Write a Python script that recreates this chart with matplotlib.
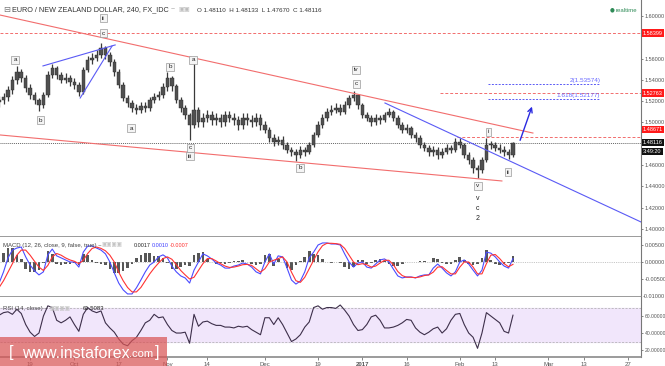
import numpy as np
import matplotlib
matplotlib.use("Agg")
import matplotlib.pyplot as plt
from matplotlib.patches import Rectangle

W, H = 665, 366
plt.rcParams['font.family'] = ['Liberation Sans', 'DejaVu Sans']

# x axis: trading days counted from 2016-09-19
origin = '2016-09-19'
first_day = '2016-09-08'
first_open = 1.5190

# daily closes / highs / lows (EURNZD)
close = [1.5211, 1.5239, 1.5305, 1.5399, 1.5474, 1.5418, 1.5324, 1.5258, 1.5211, 1.5164,
         1.5258, 1.5446, 1.5512, 1.5446, 1.5399, 1.5418, 1.5380, 1.5352, 1.5286, 1.5493,
         1.5587, 1.5606, 1.5634, 1.5700, 1.5634, 1.5568, 1.5474, 1.5352, 1.5230, 1.5183,
         1.5136, 1.5117, 1.5155, 1.5136, 1.5211, 1.5239, 1.5258, 1.5330, 1.5418, 1.5340,
         1.5211, 1.5136, 1.5070, 1.4977, 1.5117, 1.5005, 1.5042, 1.5070, 1.5023, 1.5042,
         1.5005, 1.5070, 1.5042, 1.5023, 1.4977, 1.5042, 1.5023, 1.5005, 1.5042, 1.4977,
         1.4930, 1.4854, 1.4817, 1.4836, 1.4789, 1.4742, 1.4723, 1.4695, 1.4742, 1.4723,
         1.4789, 1.4883, 1.4977, 1.5042, 1.5099, 1.5117, 1.5136, 1.5099, 1.5164, 1.5230,
         1.5258, 1.5164, 1.5070, 1.5042, 1.5005, 1.5042, 1.5023, 1.5070, 1.5099, 1.5042,
         1.4977, 1.4930, 1.4948, 1.4883, 1.4854, 1.4789, 1.4761, 1.4723, 1.4742, 1.4695,
         1.4723, 1.4761, 1.4742, 1.4817, 1.4789, 1.4695, 1.4648, 1.4573, 1.4554, 1.4648,
         1.4789, 1.4789, 1.4761, 1.4742, 1.4723, 1.4695, 1.4812]
high = [1.5250, 1.5280, 1.5340, 1.5440, 1.5530, 1.5500, 1.5450, 1.5360, 1.5290, 1.5230,
        1.5290, 1.5480, 1.5550, 1.5530, 1.5470, 1.5460, 1.5450, 1.5420, 1.5380, 1.5520,
        1.5620, 1.5650, 1.5680, 1.5746, 1.5720, 1.5660, 1.5600, 1.5500, 1.5380, 1.5260,
        1.5210, 1.5170, 1.5190, 1.5190, 1.5240, 1.5280, 1.5300, 1.5370, 1.5474, 1.5440,
        1.5360, 1.5240, 1.5160, 1.5090, 1.5587, 1.5150, 1.5090, 1.5120, 1.5110, 1.5090,
        1.5080, 1.5110, 1.5110, 1.5090, 1.5060, 1.5090, 1.5090, 1.5070, 1.5090, 1.5080,
        1.5010, 1.4960, 1.4890, 1.4870, 1.4870, 1.4820, 1.4770, 1.4750, 1.4780, 1.4770,
        1.4820, 1.4910, 1.5010, 1.5080, 1.5140, 1.5160, 1.5180, 1.5170, 1.5200, 1.5260,
        1.5295, 1.5270, 1.5180, 1.5100, 1.5070, 1.5080, 1.5070, 1.5100, 1.5140, 1.5120,
        1.5070, 1.5000, 1.4990, 1.4970, 1.4910, 1.4880, 1.4820, 1.4790, 1.4780, 1.4770,
        1.4760, 1.4800, 1.4790, 1.4850, 1.4850, 1.4810, 1.4720, 1.4680, 1.4600, 1.4680,
        1.4850, 1.4830, 1.4820, 1.4800, 1.4780, 1.4750, 1.4813]
low = [1.5150, 1.5170, 1.5200, 1.5270, 1.5360, 1.5380, 1.5290, 1.5220, 1.5170, 1.5110,
       1.5140, 1.5240, 1.5420, 1.5410, 1.5370, 1.5370, 1.5340, 1.5310, 1.5250, 1.5270,
       1.5470, 1.5550, 1.5580, 1.5610, 1.5600, 1.5530, 1.5440, 1.5320, 1.5200, 1.5150,
       1.5100, 1.5080, 1.5090, 1.5100, 1.5110, 1.5180, 1.5210, 1.5230, 1.5300, 1.5300,
       1.5180, 1.5100, 1.5030, 1.4836, 1.4950, 1.4960, 1.4960, 1.5000, 1.4980, 1.4980,
       1.4960, 1.4970, 1.5000, 1.4980, 1.4930, 1.4940, 1.4980, 1.4960, 1.4970, 1.4930,
       1.4900, 1.4820, 1.4780, 1.4790, 1.4750, 1.4710, 1.4690, 1.4640, 1.4670, 1.4690,
       1.4700, 1.4770, 1.4860, 1.4950, 1.5010, 1.5070, 1.5090, 1.5070, 1.5080, 1.5140,
       1.5200, 1.5130, 1.5040, 1.5010, 1.4970, 1.4980, 1.4990, 1.5000, 1.5050, 1.5010,
       1.4950, 1.4900, 1.4900, 1.4850, 1.4820, 1.4760, 1.4730, 1.4690, 1.4690, 1.4660,
       1.4670, 1.4700, 1.4710, 1.4720, 1.4760, 1.4670, 1.4610, 1.4530, 1.4479, 1.4530,
       1.4630, 1.4750, 1.4730, 1.4710, 1.4690, 1.4660, 1.4680]

macd = [-0.0062, -0.0029, 0.0012, 0.0035, 0.0041, 0.0044, 0.0015, -0.0009, -0.0026, -0.0038,
        -0.0029, 0.0021, 0.0038, 0.0018, 0.0012, 0.0006, 0.0000, 0.0000, -0.0015, 0.0029,
        0.0047, 0.0047, 0.0041, 0.0035, 0.0024, 0.0000, -0.0032, -0.0062, -0.0082, -0.0094,
        -0.0094, -0.0076, -0.0053, -0.0029, -0.0009, 0.0000, 0.0015, 0.0021, 0.0012, -0.0012,
        -0.0029, -0.0041, -0.0047, -0.0062, -0.0024, 0.0000, 0.0024, 0.0018, 0.0009, -0.0003,
        -0.0009, -0.0018, -0.0018, -0.0012, -0.0009, -0.0003, -0.0006, -0.0015, -0.0029, -0.0035,
        0.0000, 0.0024, -0.0006, 0.0018, 0.0015, -0.0018, -0.0053, -0.0065, -0.0056, -0.0029,
        0.0012, 0.0029, 0.0050, 0.0056, 0.0056, 0.0053, 0.0053, 0.0050, 0.0024, 0.0000,
        -0.0015, -0.0003, 0.0000, -0.0015, -0.0018, -0.0006, 0.0006, 0.0009, 0.0000, -0.0021,
        -0.0041, -0.0047, -0.0044, -0.0044, -0.0047, -0.0041, -0.0038, -0.0038, -0.0018, -0.0006,
        -0.0018, -0.0032, -0.0041, -0.0029, 0.0000, 0.0006, -0.0006, -0.0024, -0.0041, -0.0024,
        0.0029, 0.0026, 0.0015, 0.0000, -0.0012, -0.0018, 0.0010]
signal = [-0.0075, -0.0055, -0.0030, -0.0005, 0.0020, 0.0035, 0.0035, 0.0020, 0.0002, -0.0015,
          -0.0025, -0.0010, 0.0015, 0.0025, 0.0020, 0.0012, 0.0006, 0.0002, -0.0005, 0.0005,
          0.0025, 0.0040, 0.0044, 0.0040, 0.0033, 0.0020, 0.0000, -0.0030, -0.0055, -0.0075,
          -0.0088, -0.0088, -0.0075, -0.0055, -0.0035, -0.0018, -0.0003, 0.0010, 0.0015, 0.0008,
          -0.0008, -0.0025, -0.0038, -0.0050, -0.0045, -0.0025, -0.0005, 0.0010, 0.0010, 0.0003,
          -0.0005, -0.0012, -0.0016, -0.0015, -0.0012, -0.0008, -0.0007, -0.0010, -0.0020, -0.0030,
          -0.0020, 0.0000, 0.0005, 0.0010, 0.0015, 0.0000, -0.0030, -0.0055, -0.0060, -0.0045,
          -0.0020, 0.0005, 0.0030, 0.0048, 0.0055, 0.0055, 0.0054, 0.0052, 0.0040, 0.0020,
          0.0000, -0.0008, -0.0005, -0.0008, -0.0015, -0.0012, -0.0003, 0.0005, 0.0005, -0.0008,
          -0.0028, -0.0040, -0.0045, -0.0045, -0.0046, -0.0044, -0.0040, -0.0038, -0.0030, -0.0015,
          -0.0014, -0.0025, -0.0035, -0.0035, -0.0015, 0.0000, 0.0000, -0.0015, -0.0035, -0.0035,
          -0.0005, 0.0020, 0.0022, 0.0010, -0.0005, -0.0014, -0.0007]

rsi = [61, 64, 65, 62, 68, 63, 50, 41, 36, 40, 60, 72, 70, 55, 52, 55, 59, 50, 42, 62,
       70, 66, 64, 66, 52, 46, 41, 33, 27, 25, 31, 35, 43, 52, 55, 62, 58, 59, 50, 43,
       40, 40, 41, 28, 62, 48, 53, 54, 51, 49, 49, 47, 47, 46, 48, 47, 48, 44, 41, 38,
       58, 58, 50, 58, 50, 40, 30, 33, 38, 47, 53, 70, 72, 68, 70, 70, 69, 73, 67, 60,
       50, 43, 44, 50, 59, 61, 55, 46, 46, 47, 49, 52, 56, 55, 46, 41, 38, 41, 45, 47,
       40, 45, 55, 62, 63, 50, 40, 35, 22, 40, 64, 60, 56, 52, 42, 40, 61]

tick_dates = ['2016-09-19', '2016-10-03', '2016-10-17', '2016-11-01', '2016-11-14', '2016-12-01',
              '2016-12-19', '2017-01-02', '2017-01-16', '2017-02-01', '2017-02-13', '2017-03-01',
              '2017-03-13', '2017-03-27']
tick_labels = ['19', 'Oct', '17', 'Nov', '14', 'Dec', '19', '2017', '16', 'Feb', '13', 'Mar', '13', '27']

# horizontal levels and analysis drawings (day index, price)
lvl_high = 1.58399
lvl_mid = 1.52763
lvl_res = 1.48671
last_price = 1.48116
fib_2 = 1.53574
fib_1618 = 1.52177
red_top = [(-6.8, 1.6009), (113.5, 1.4901)]
red_bot = [(-6.8, 1.4883), (106.5, 1.4451)]
blue_tri_a = [(2.9, 1.5531), (19.2, 1.5728)]
blue_tri_b = [(11.3, 1.5230), (18.5, 1.5718)]
blue_long = [(80.1, 1.5183), (137.9, 1.4066)]
arrow = [(110.4, 1.4808), (113.5, 1.5174)]
wave_boxes = [('a', -3.4, 1.5587), ('b', 2.3, 1.5023), ('ii', 16.5, 1.5981), ('c', 16.5, 1.5840),
              ('a', 22.8, 1.4948), ('b', 31.6, 1.5521), ('a', 36.8, 1.5587), ('c', 36.1, 1.4761),
              ('iii', 36.1, 1.4685), ('b', 60.9, 1.4573), ('iv', 73.6, 1.5493), ('c', 73.6, 1.5362),
              ('i', 103.4, 1.4911), ('v', 101.1, 1.4404), ('ii', 107.9, 1.4535)]
wave_plain = [('v', 101.1, 1.4282), ('c', 101.1, 1.4188), ('2', 101.1, 1.4094)]

x0 = int(np.busday_count(origin, first_day))
x = np.arange(len(close)) + x0
close = np.array(close)
high = np.array(high)
low = np.array(low)
opens = np.r_[first_open, close[:-1]]
macd = np.array(macd)
signal = np.array(signal)
hist = macd - signal
tick_x = [int(np.busday_count(origin, d)) for d in tick_dates]

xl = (-6.8, 137.9)
fig = plt.figure(figsize=(W / 100, H / 100), dpi=100)
fig.patch.set_facecolor('white')

def px_axes(top, bottom):
    return fig.add_axes([0, 1 - bottom / H, 641 / W, (bottom - top) / H])

ax = px_axes(0, 237)
axm = px_axes(237, 297)
axr = px_axes(297, 357)

grey = '#555555'
fs_ax = 4.0
for a in (ax, axm, axr):
    a.set_xlim(*xl)
    a.yaxis.tick_right()
    a.tick_params(axis='y', labelsize=fs_ax, colors=grey, length=1.5, width=0.5, pad=1)
    a.tick_params(axis='x', bottom=False, labelbottom=False)
    for s in ('left', 'top'):
        a.spines[s].set_visible(False)
    a.spines['right'].set_color('#777777')
    a.spines['bottom'].set_color('#8a8a8a')
    a.spines['right'].set_linewidth(0.8)
    a.spines['bottom'].set_linewidth(1.2)

# ---- price panel
price_ticks = [1.40, 1.42, 1.44, 1.46, 1.50, 1.52, 1.54, 1.56, 1.60]
ax.set_ylim(1.3925, 1.6150)
ax.set_yticks(price_ticks)
ax.set_yticklabels(['%.5f' % v for v in price_ticks])

ax.vlines(x, low, high, color='#3a3a3a', lw=0.9, zorder=3)
body_lo = np.minimum(opens, close)
body_h = np.maximum(np.abs(close - opens), 0.0006)
ax.bar(x, body_h, bottom=body_lo, width=0.8, color='#505050', edgecolor='#2a2a2a', lw=0.3, zorder=3)

red = '#f26d6d'
blue = '#5a5af5'
ax.axhline(lvl_high, color=red, lw=0.7, ls=(0, (3, 2)))
ax.plot([92.5, xl[1]], [lvl_mid] * 2, color=red, lw=0.7, ls=(0, (3, 2)))
ax.plot([96.4, xl[1]], [lvl_res] * 2, color=red, lw=0.7, ls=(0, (3, 2)))
ax.axhline(last_price, color='#666666', lw=0.7, ls=(0, (1, 1)))
ax.plot([103.4, 128.7], [fib_2] * 2, color=blue, lw=0.7, ls=(0, (2, 1.5)))
ax.plot([103.4, 128.7], [fib_1618] * 2, color=blue, lw=0.7, ls=(0, (2, 1.5)))
ax.text(128.7, fib_2 + 0.0010, '2(1.53574)', color='#6a6aff', fontsize=4.6, ha='right', va='bottom')
ax.text(128.7, fib_1618 + 0.0010, '1.618(1.52177)', color='#6a6aff', fontsize=4.6, ha='right', va='bottom')

for seg, c in ((red_top, red), (red_bot, red), (blue_tri_a, blue), (blue_tri_b, blue), (blue_long, blue)):
    ax.plot([seg[0][0], seg[1][0]], [seg[0][1], seg[1][1]], color=c, lw=0.8, zorder=4)
ax.annotate('', xy=arrow[1], xytext=arrow[0],
            arrowprops=dict(arrowstyle='->', color='#2a2ae0', lw=1.0, mutation_scale=8), zorder=5)

for t, bx, by in wave_boxes:
    ax.text(bx, by, t, fontsize=4.6, ha='center', va='center', color='#222222', zorder=6,
            bbox=dict(boxstyle='square,pad=0.3', fc='#f4f4f4', ec='#9a9a9a', lw=0.5))
for t, bx, by in wave_plain:
    ax.text(bx, by, t, fontsize=5, ha='center', va='center', color='#222222')

trans = ax.get_yaxis_transform()
for v, fc, dy in ((lvl_high, '#ff1a1a', 0), (lvl_mid, '#ff1a1a', 0), (lvl_res, '#ff1a1a', 0.0065),
                  (last_price, '#111111', 0)):
    ax.text(1.003, v + dy, '%.5f' % v, transform=trans, fontsize=fs_ax, color='white', va='center',
            ha='left', clip_on=False, zorder=10,
            bbox=dict(boxstyle='square,pad=0.2', fc=fc, ec='none'))
ax.text(1.003, last_price - 0.0083, '3:49:20', transform=trans, fontsize=fs_ax, color='white',
        va='center', ha='left', clip_on=False, zorder=10,
        bbox=dict(boxstyle='square,pad=0.2', fc='#111111', ec='none'))

fig.text(3 / W, 1 - 10 / H, '\u229f', fontsize=6, color='#777777', va='center',
         family=['DejaVu Sans'])
fig.text(12 / W, 1 - 10 / H, 'EURO / NEW ZEALAND DOLLAR, 240, FX_IDC', fontsize=5.2,
         color='#333333', va='center')
fig.text(171 / W, 1 - 10 / H, '~', fontsize=5, color='#999999', va='center')
fig.text(178 / W, 1 - 10 / H, '\u25a3\u25a3', fontsize=4.5, color='#bbbbbb', va='center',
         family=['DejaVu Sans'])
fig.text(197 / W, 1 - 10 / H, 'O 1.48110  H 1.48133  L 1.47670  C 1.48116', fontsize=4.5,
         color='#333333', va='center')
fig.text(610 / W, 1 - 10 / H, '\u25cf', fontsize=4, color='#2e8b57', va='center',
         family=['DejaVu Sans'])
fig.text(616 / W, 1 - 10 / H, 'realtime', fontsize=4.3, color='#2e8b57', va='center')

# ---- MACD panel
axm.set_ylim(-0.0103, 0.00735)
axm.set_yticks([-0.005, 0.0, 0.005])
axm.set_yticklabels(['-0.00500', '0.00000', '0.00500'])
axm.bar(x, hist, width=0.6, color='#3a3a3a', alpha=0.85, zorder=2)
axm.plot(x, macd, color='#4b4bff', lw=0.8, zorder=3)
axm.plot(x, signal, color='#ff3333', lw=0.8, zorder=3)
axm.axhline(0, color='#999999', lw=0.4, ls=(0, (2, 2)))
axm.text(3 / 641, 0.84, 'MACD (12, 26, close, 9, false, true) ~', transform=axm.transAxes,
         fontsize=4.3, color='#444444')
axm.text(102 / 641, 0.84, '\u25a3\u25a3\u25a3\u25a3', transform=axm.transAxes, fontsize=4,
         color='#c4c4c4', family=['DejaVu Sans'])
axm.text(134 / 641, 0.84, '0.0017', transform=axm.transAxes, fontsize=3.9, color='#222222')
axm.text(152 / 641, 0.84, '0.0010', transform=axm.transAxes, fontsize=3.9, color='#3b3bff')
axm.text(170 / 641, 0.84, '-0.0007', transform=axm.transAxes, fontsize=3.9, color='#ff2a2a')
axm.text(1.003, -0.0103, '-0.01000', transform=axm.get_yaxis_transform(), fontsize=fs_ax,
         color=grey, va='center', clip_on=False)

# ---- RSI panel
axr.set_ylim(11.8, 82.4)
axr.set_yticks([20, 40, 60])
axr.set_yticklabels(['20.00000', '40.00000', '60.00000'])
axr.tick_params(axis='y', labelsize=3.6)
axr.axhspan(30, 70, color='#f1e6fb', zorder=0)
axr.axhline(70, color='#aaaaaa', lw=0.5, ls=(0, (3, 2)))
axr.axhline(30, color='#aaaaaa', lw=0.5, ls=(0, (3, 2)))
axr.plot(x, rsi, color='#3d2f4a', lw=0.8, zorder=3)
axr.text(3 / 641, 0.78, 'RSI (14, close) ~', transform=axr.transAxes, fontsize=4.3, color='#444444')
axr.text(50 / 641, 0.78, '\u25a3\u25a3\u25a3\u25a3', transform=axr.transAxes, fontsize=4,
         color='#c4c4c4', family=['DejaVu Sans'])
axr.text(83 / 641, 0.78, '61.5083', transform=axr.transAxes, fontsize=4.3, color='#222222')

axr.set_xticks(tick_x)
axr.set_xticklabels(tick_labels)
axr.tick_params(axis='x', bottom=True, labelbottom=True, labelsize=4.3, colors=grey,
                length=2, width=0.5, pad=1.5)
for lab in axr.get_xticklabels():
    if lab.get_text() == '2017':
        lab.set_fontweight('bold')

# watermark
fig.patches.append(Rectangle((0, 0), 167 / W, 29 / H, transform=fig.transFigure,
                             fc='#d95555', alpha=0.72, ec='none', zorder=20))
fig.text(9 / W, 13 / H, '[', fontsize=12, color='white', va='center', zorder=21)
fig.text(22 / W, 13 / H, 'www.instaforex', fontsize=11.5, color='white', va='center', zorder=21)
fig.text(129 / W, 12 / H, '.com', fontsize=8, color='white', va='center', zorder=21)
fig.text(155 / W, 13 / H, ']', fontsize=12, color='white', va='center', zorder=21)

fig.savefig('out.png', dpi=100)
